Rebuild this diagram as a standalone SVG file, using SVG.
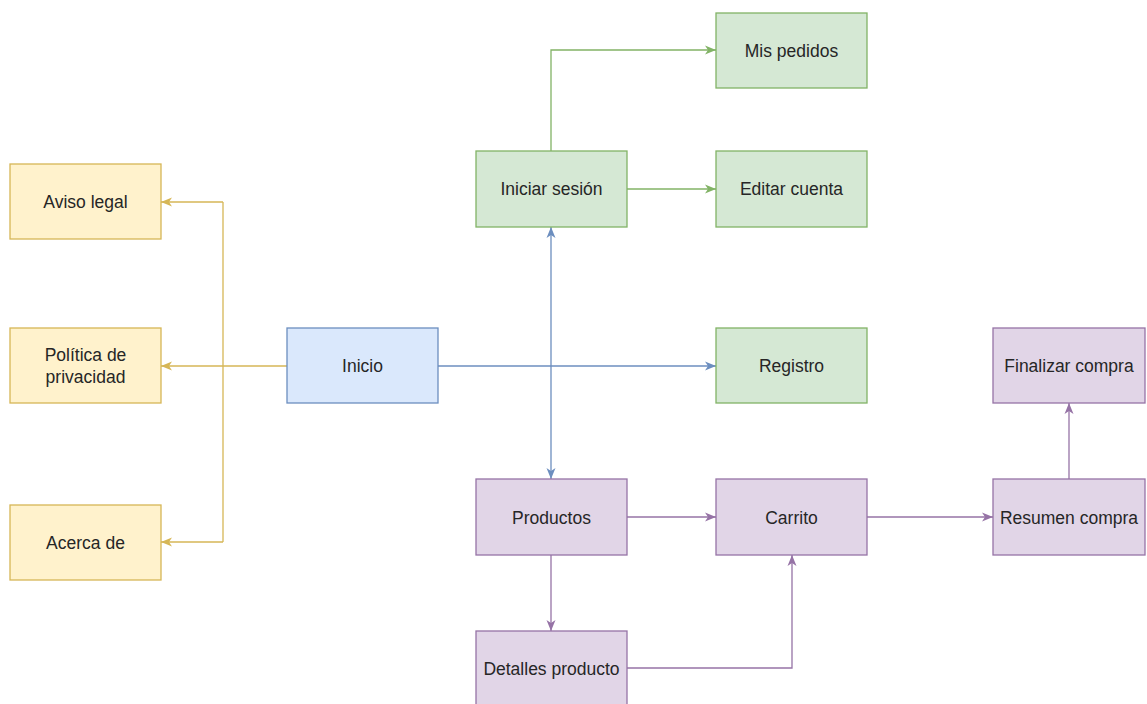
<svg xmlns="http://www.w3.org/2000/svg" width="1147" height="704" viewBox="0 0 1147 704">
  <style>
    .box { stroke-width: 1.3; }
    .yellow { fill: #fff2cc; stroke: #d6b656; }
    .blue { fill: #dae8fc; stroke: #6c8ebf; }
    .green { fill: #d5e8d4; stroke: #82b366; }
    .purple { fill: #e1d5e7; stroke: #9673a6; }
    text { font-family: "Liberation Sans", Arial, sans-serif; font-size: 17.5px; fill: #262626; text-anchor: middle; dominant-baseline: central; }
    .edge { fill: none; stroke-width: 1.3; }
    .e-yellow { stroke: #d6b656; }
    .e-blue { stroke: #6c8ebf; }
    .e-green { stroke: #82b366; }
    .e-purple { stroke: #9673a6; }
  </style>
  <defs>
    <marker id="arr-yellow" markerUnits="userSpaceOnUse" markerWidth="12" markerHeight="10" refX="11" refY="5" orient="auto-start-reverse">
      <path d="M0,0.5 L11,5 L0,9.5 L3,5 Z" fill="#d6b656"/>
    </marker>
    <marker id="arr-blue" markerUnits="userSpaceOnUse" markerWidth="12" markerHeight="10" refX="11" refY="5" orient="auto-start-reverse">
      <path d="M0,0.5 L11,5 L0,9.5 L3,5 Z" fill="#6c8ebf"/>
    </marker>
    <marker id="arr-green" markerUnits="userSpaceOnUse" markerWidth="12" markerHeight="10" refX="11" refY="5" orient="auto-start-reverse">
      <path d="M0,0.5 L11,5 L0,9.5 L3,5 Z" fill="#82b366"/>
    </marker>
    <marker id="arr-purple" markerUnits="userSpaceOnUse" markerWidth="12" markerHeight="10" refX="11" refY="5" orient="auto-start-reverse">
      <path d="M0,0.5 L11,5 L0,9.5 L3,5 Z" fill="#9673a6"/>
    </marker>
  </defs>

  <rect width="1147" height="704" fill="#ffffff"/>

  <g id="connectors">
    <!-- Inicio to the legal pages (shared trunk at x=223) -->
    <path class="edge e-yellow" d="M287,366 L161,366" marker-end="url(#arr-yellow)"/>
    <path class="edge e-yellow" d="M223,202 L223,542"/>
    <path class="edge e-yellow" d="M223,202 L161,202" marker-end="url(#arr-yellow)"/>
    <path class="edge e-yellow" d="M223,542 L161,542" marker-end="url(#arr-yellow)"/>
    <!-- Inicio to account and catalogue -->
    <path class="edge e-blue" d="M438,366 L716,366" marker-end="url(#arr-blue)"/>
    <path class="edge e-blue" d="M551,227 L551,479" marker-start="url(#arr-blue)" marker-end="url(#arr-blue)"/>
    <!-- Session pages -->
    <path class="edge e-green" d="M551,151 L551,50 L716,50" marker-end="url(#arr-green)"/>
    <path class="edge e-green" d="M627,189 L716,189" marker-end="url(#arr-green)"/>
    <!-- Purchase flow -->
    <path class="edge e-purple" d="M627,517 L716,517" marker-end="url(#arr-purple)"/>
    <path class="edge e-purple" d="M551,555 L551,631" marker-end="url(#arr-purple)"/>
    <path class="edge e-purple" d="M627,668 L792,668 L792,555" marker-end="url(#arr-purple)"/>
    <path class="edge e-purple" d="M867,517 L993,517" marker-end="url(#arr-purple)"/>
    <path class="edge e-purple" d="M1069,479 L1069,403" marker-end="url(#arr-purple)"/>
  </g>

  <g id="aviso-legal">
    <rect class="box yellow" x="10" y="164" width="151" height="75"/>
    <text x="85.5" y="202">Aviso legal</text>
  </g>
  <g id="politica-privacidad">
    <rect class="box yellow" x="10" y="328" width="151" height="75"/>
    <text x="85.5" y="355">Política de</text>
    <text x="85.5" y="377">privacidad</text>
  </g>
  <g id="acerca-de">
    <rect class="box yellow" x="10" y="505" width="151" height="75"/>
    <text x="85.5" y="543">Acerca de</text>
  </g>
  <g id="inicio">
    <rect class="box blue" x="287" y="328" width="151" height="75"/>
    <text x="362.5" y="366">Inicio</text>
  </g>
  <g id="iniciar-sesion">
    <rect class="box green" x="476" y="151" width="151" height="76"/>
    <text x="551.5" y="189">Iniciar sesión</text>
  </g>
  <g id="mis-pedidos">
    <rect class="box green" x="716" y="13" width="151" height="75"/>
    <text x="791.5" y="51">Mis pedidos</text>
  </g>
  <g id="editar-cuenta">
    <rect class="box green" x="716" y="151" width="151" height="76"/>
    <text x="791.5" y="189">Editar cuenta</text>
  </g>
  <g id="registro">
    <rect class="box green" x="716" y="328" width="151" height="75"/>
    <text x="791.5" y="366">Registro</text>
  </g>
  <g id="productos">
    <rect class="box purple" x="476" y="479" width="151" height="76"/>
    <text x="551.5" y="518">Productos</text>
  </g>
  <g id="carrito">
    <rect class="box purple" x="716" y="479" width="151" height="76"/>
    <text x="791.5" y="518">Carrito</text>
  </g>
  <g id="detalles-producto">
    <rect class="box purple" x="476" y="631" width="151" height="76"/>
    <text x="551.5" y="669">Detalles producto</text>
  </g>
  <g id="resumen-compra">
    <rect class="box purple" x="993" y="479" width="152" height="76"/>
    <text x="1069" y="518">Resumen compra</text>
  </g>
  <g id="finalizar-compra">
    <rect class="box purple" x="993" y="328" width="152" height="75"/>
    <text x="1069" y="366">Finalizar compra</text>
  </g>
</svg>
